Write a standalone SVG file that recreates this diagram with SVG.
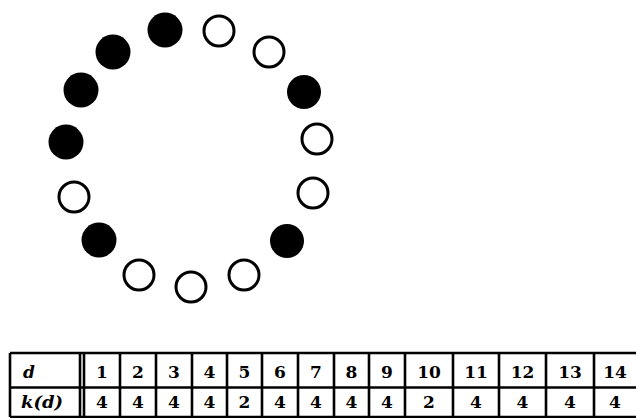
<svg xmlns="http://www.w3.org/2000/svg" width="636" height="418" viewBox="0 0 636 418">
<style>
.f{fill:#000}
.o{fill:#fff;stroke:#000;stroke-width:3}
.t{font-family:"DejaVu Serif",serif;font-weight:bold;font-size:17px;text-anchor:middle;fill:#000}
.h{font-family:"DejaVu Serif",serif;font-weight:bold;font-style:italic;font-size:17px;text-anchor:start;fill:#000}
.g{stroke:#000;stroke-width:2.6;fill:none}
</style>
<rect width="636" height="418" fill="#fff"/>
<g id="ring">
<circle id="c1" class="f" cx="165" cy="30" r="17.5"/>
<circle id="c2" class="o" cx="219" cy="31" r="15"/>
<circle id="c3" class="o" cx="269" cy="52" r="15"/>
<circle id="c4" class="f" cx="304" cy="92" r="17"/>
<circle id="c5" class="o" cx="317" cy="139" r="15"/>
<circle id="c6" class="o" cx="313" cy="193" r="15"/>
<circle id="c7" class="f" cx="287" cy="241" r="17"/>
<circle id="c8" class="o" cx="244" cy="275" r="15"/>
<circle id="c9" class="o" cx="191" cy="287" r="15"/>
<circle id="c10" class="o" cx="139" cy="275" r="15"/>
<circle id="c11" class="f" cx="99" cy="240" r="17.5"/>
<circle id="c12" class="o" cx="74" cy="197" r="15"/>
<circle id="c13" class="f" cx="66" cy="142" r="17.5"/>
<circle id="c14" class="f" cx="81" cy="90" r="17.5"/>
<circle id="c15" class="f" cx="113" cy="52" r="17.5"/>
</g>
<g id="table">
<path class="g" stroke-width="3" d="M10,353 H636 M10,417 H636 M10,353 V417"/>
<path class="g" d="M10,387.5 H636 M120,353 V417 M156,353 V417 M192,353 V417 M227,353 V417 M262,353 V417 M298,353 V417 M334,353 V417 M369,353 V417 M405,353 V417 M453,353 V417 M499,353 V417 M546,353 V417 M594,353 V417"/>
<path class="g" stroke-width="1.8" d="M80,353 V417 M84,353 V417"/>
<text class="h" x="23" y="378">d</text>
<text class="h" x="21" y="408" textLength="42" lengthAdjust="spacingAndGlyphs">k(d)</text>
<g id="row1">
<text class="t" x="102" y="378">1</text>
<text class="t" x="138" y="378">2</text>
<text class="t" x="174" y="378">3</text>
<text class="t" x="209.5" y="378">4</text>
<text class="t" x="244.5" y="378">5</text>
<text class="t" x="280" y="378">6</text>
<text class="t" x="316" y="378">7</text>
<text class="t" x="351.5" y="378">8</text>
<text class="t" x="387" y="378">9</text>
<text class="t" x="429" y="378">10</text>
<text class="t" x="476" y="378">11</text>
<text class="t" x="522.5" y="378">12</text>
<text class="t" x="570" y="378">13</text>
<text class="t" x="615" y="378">14</text>
</g>
<g id="row2">
<text class="t" x="102" y="408">4</text>
<text class="t" x="138" y="408">4</text>
<text class="t" x="174" y="408">4</text>
<text class="t" x="209.5" y="408">4</text>
<text class="t" x="244.5" y="408">2</text>
<text class="t" x="280" y="408">4</text>
<text class="t" x="316" y="408">4</text>
<text class="t" x="351.5" y="408">4</text>
<text class="t" x="387" y="408">4</text>
<text class="t" x="429" y="408">2</text>
<text class="t" x="476" y="408">4</text>
<text class="t" x="522.5" y="408">4</text>
<text class="t" x="570" y="408">4</text>
<text class="t" x="615" y="408">4</text>
</g>
</g>
</svg>
